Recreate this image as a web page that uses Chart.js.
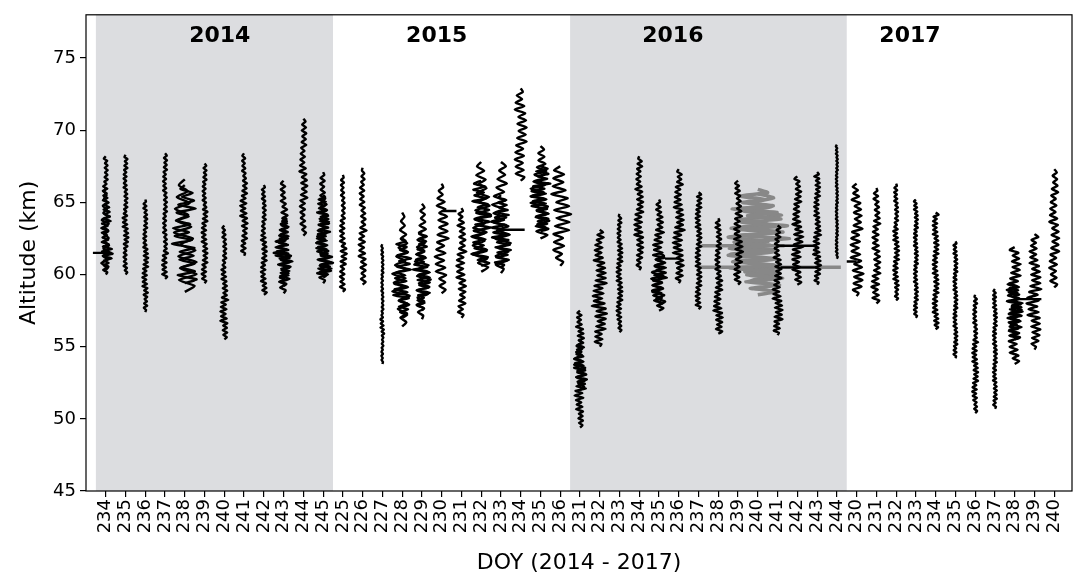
<!DOCTYPE html>
<html>
<head>
<meta charset="utf-8">
<script src="https://cdn.jsdelivr.net/npm/chart.js@4.4.0/dist/chart.umd.min.js"></script>
<style>
  html, body { margin: 0; padding: 0; background: #fff; }
  #wrap { width: 1080px; height: 577px; position: relative; }
</style>
</head>
<body>
<div id="wrap"><canvas id="chart"></canvas></div>
<script>
// DOY per campaign year
const days2014 = [234, 235, 236, 237, 238, 239, 240, 241, 242, 243, 244, 245];
const days2015 = [225, 226, 227, 228, 229, 230, 231, 232, 233, 234, 235, 236];
const days2016 = [231, 232, 233, 234, 235, 236, 237, 238, 239, 240, 241, 242, 243, 244];
const days2017 = [230, 231, 232, 233, 234, 235, 236, 237, 238, 239, 240];
const years = ['2014', '2015', '2016', '2017'];
const altTicks = [45, 50, 55, 60, 65, 70, 75];

// profiles: [slot, bottom km, top km, vertical wavelength km, amplitude envelope bottom -> top]
const blackProfiles = [
  [0, 60.0, 68.2, 0.32, [3, 7, 4, 5, 4, 3, 2, 2]],
  [0, 60.3, 66.0, 0.5, [5, 4, 3, 4, 3, 2]],
  [1, 60.0, 68.3, 0.3, [2, 2, 3, 3, 2, 2, 2, 2]],
  [2, 57.4, 65.2, 0.3, [2, 3, 3, 3, 2, 2, 2]],
  [3, 59.7, 68.4, 0.32, [3, 3, 2, 2, 2, 2, 2, 2, 2]],
  [4, 58.8, 66.6, 0.8, [10, 14, 12, 11, 11, 10, 9, 8]],
  [4, 59.4, 66.2, 0.55, [12, 10, 13, 12, 10, 11, 8]],
  [5, 59.4, 67.7, 0.32, [3, 3, 3, 3, 3, 2, 2, 2]],
  [6, 55.5, 63.4, 0.32, [3, 4, 4, 3, 3, 2, 2, 2]],
  [7, 61.3, 68.4, 0.35, [3, 3, 4, 4, 3, 2, 2]],
  [8, 58.6, 66.2, 0.32, [3, 3, 3, 3, 2, 2, 2]],
  [9, 58.7, 66.5, 0.4, [4, 6, 10, 8, 5, 4, 3, 3]],
  [9, 59.2, 64.0, 0.3, [5, 7, 8, 5, 4]],
  [10, 62.7, 70.8, 0.4, [3, 3, 4, 4, 4, 3, 3, 3]],
  [11, 59.4, 67.1, 0.4, [5, 10, 7, 6, 6, 4, 3, 3]],
  [11, 59.8, 65.5, 0.3, [8, 6, 7, 6, 5]],

  [12, 58.8, 66.9, 0.35, [3, 3, 4, 3, 3, 2, 2, 2]],
  [13, 59.3, 67.4, 0.4, [3, 4, 4, 4, 3, 3, 3, 2]],
  [14, 53.8, 62.1, 0.28, [1, 1, 2, 1, 1, 1, 1, 1]],
  [15, 56.4, 64.3, 0.6, [5, 8, 10, 10, 8, 6, 4, 3]],
  [15, 57.0, 62.5, 0.4, [6, 9, 8, 9, 6]],
  [16, 56.9, 64.9, 0.5, [4, 6, 9, 9, 7, 5, 4, 3]],
  [16, 57.5, 63.0, 0.35, [5, 8, 9, 6, 5]],
  [17, 58.7, 66.3, 0.5, [4, 6, 7, 6, 7, 6, 5, 3]],
  [18, 57.0, 64.6, 0.4, [4, 4, 5, 5, 5, 4, 4, 3]],
  [19, 60.2, 67.8, 0.6, [8, 10, 10, 9, 10, 8, 6, 5]],
  [19, 60.6, 66.5, 0.4, [9, 8, 10, 9, 8]],
  [20, 60.1, 67.8, 0.6, [7, 9, 10, 10, 9, 8, 6, 5]],
  [20, 60.5, 65.5, 0.35, [8, 10, 9, 8, 6]],
  [21, 66.5, 72.9, 0.5, [5, 6, 6, 6, 6, 6, 4]],
  [22, 62.5, 68.9, 0.5, [7, 9, 10, 10, 8, 6, 4]],
  [22, 63.0, 67.5, 0.35, [8, 9, 10, 8]],
  [23, 60.6, 67.5, 0.55, [5, 7, 9, 11, 10, 9, 7]],

  [24, 49.4, 57.5, 0.32, [3, 4, 6, 7, 6, 4, 4, 3]],
  [24, 52.0, 55.5, 0.45, [5, 7, 6, 4]],
  [25, 55.0, 63.1, 0.35, [5, 6, 8, 7, 7, 6, 5, 4]],
  [26, 56.0, 64.2, 0.3, [2, 3, 3, 3, 3, 3, 2, 2]],
  [27, 60.3, 68.2, 0.35, [3, 4, 5, 5, 4, 4, 3, 3]],
  [28, 57.5, 65.2, 0.35, [5, 7, 8, 7, 6, 5, 4, 3]],
  [28, 57.9, 61.5, 0.45, [7, 8, 6]],
  [29, 59.4, 67.3, 0.35, [4, 5, 6, 6, 5, 5, 4, 3]],
  [30, 57.6, 65.7, 0.3, [3, 3, 3, 3, 3, 3, 3, 3]],
  [31, 55.9, 63.9, 0.32, [4, 5, 4, 4, 3, 3, 3, 3]],
  [32, 59.3, 66.5, 0.35, [4, 4, 5, 4, 4, 3, 3]],
  [34, 55.8, 63.4, 0.32, [4, 5, 5, 4, 4, 3, 3]],
  [35, 59.3, 66.8, 0.35, [4, 5, 6, 6, 5, 4, 4, 3]],
  [36, 59.3, 67.1, 0.3, [3, 4, 4, 4, 3, 3, 3, 3]],
  [37, 61.1, 69.0, 0.25, [1, 1, 1, 1, 1, 1, 1, 1]],

  [38, 58.5, 66.3, 0.45, [5, 7, 6, 6, 6, 5, 5, 4]],
  [39, 58.0, 66.0, 0.38, [4, 5, 4, 4, 4, 4, 3, 3]],
  [40, 58.2, 66.3, 0.3, [2, 3, 3, 3, 3, 2, 2, 2]],
  [41, 57.0, 65.2, 0.28, [2, 2, 2, 2, 2, 2, 2, 2]],
  [42, 56.2, 64.3, 0.3, [3, 3, 3, 3, 3, 3, 3, 3]],
  [43, 54.2, 62.3, 0.28, [2, 2, 2, 2, 2, 2, 2]],
  [44, 50.4, 58.6, 0.3, [2, 3, 3, 3, 3, 2, 2, 2]],
  [45, 50.7, 59.0, 0.28, [2, 2, 2, 2, 2, 2, 2, 2]],
  [46, 53.8, 61.9, 0.4, [5, 6, 7, 8, 8, 6, 5]],
  [46, 55.5, 59.5, 0.3, [6, 8, 6]],
  [47, 54.8, 62.8, 0.4, [4, 6, 7, 8, 7, 6, 5, 4]],
  [48, 59.1, 67.3, 0.45, [4, 5, 5, 5, 5, 4, 4, 3]]
];
const grayProfiles = [
  [33, 58.6, 65.9, 0.45, [22, 28, 30, 32, 30, 26, 18]],
  [33, 59.0, 65.6, 0.6, [18, 24, 28, 30, 24, 16]]
];
// single-level excursions: [slot, altitude km, from, to]
const blackSpikes = [
  [0, 61.5, -13, 6], [17, 64.4, 0, 15], [20, 63.1, 0, 24], [29, 61.1, -14, 0],
  [36, 62.0, -40, 0], [36, 60.5, -37, 0], [38, 60.9, -10, 0], [46, 58.3, 0, 27]
];
const graySpikes = [
  [33, 62.0, -57, 27], [33, 60.5, -61, 84]
];

const categories = [...days2014, ...days2015, ...days2016, ...days2017].map(String);
const yearLengths = [days2014.length, days2015.length, days2016.length, days2017.length];
const yearStarts = yearLengths.map((n, i) => yearLengths.slice(0, i).reduce((a, b) => a + b, 0));

const AMP = 0.05;                // slot width per amplitude unit
const SHAPE = [1, 0.55, 0.9, 0.4, 0.75, 1, 0.6, 0.85, 0.35];

function profilePoints(p) {
  const [slot, lo, hi, wl, amps] = p;
  const n = Math.max(2, Math.round((hi - lo) / (wl / 2)));
  const pts = [];
  for (let k = 0; k <= n; k++) {
    const y = lo + (hi - lo) * k / n;
    const seg = Math.min(amps.length - 1, Math.floor(k / n * amps.length));
    const a = (k === 0 || k === n) ? 0 : amps[seg] * SHAPE[(k + slot) % SHAPE.length] * (k % 2 ? 1 : -1);
    pts.push({ x: slot + a * AMP, y: y });
  }
  return pts;
}

function spikePoints(s) {
  return [{ x: s[0] + s[2] * AMP, y: s[1] }, { x: s[0] + s[3] * AMP, y: s[1] }];
}

const datasets = [];
grayProfiles.forEach(p => datasets.push({ data: profilePoints(p), borderColor: '#888888', borderWidth: 3.5, tension: 0.2, order: 3 }));
graySpikes.forEach(s => datasets.push({ data: spikePoints(s), borderColor: '#888888', borderWidth: 3.5, order: 3 }));
blackProfiles.forEach(p => datasets.push({ data: profilePoints(p), borderColor: '#000', borderWidth: 2.4, tension: 0.2, order: 1 }));
blackSpikes.forEach(s => datasets.push({ data: spikePoints(s), borderColor: '#000', borderWidth: 2.4, order: 1 }));

const FONT = 'DejaVu Sans';

// grey year bands, year titles and axes box
const decor = {
  id: 'decor',
  beforeDatasetsDraw(chart) {
    const { ctx, chartArea: a, scales: { x } } = chart;
    ctx.save();
    ctx.fillStyle = '#dcdde0';
    [0, 2].forEach(i => {
      const x0 = x.getPixelForValue(yearStarts[i] - 0.5);
      const x1 = x.getPixelForValue(yearStarts[i] + yearLengths[i] - 0.5);
      ctx.fillRect(x0, a.top, x1 - x0, a.bottom - a.top);
    });
    const labelSlots = [5.77, 16.75, 28.7, 40.7];
    ctx.fillStyle = '#000';
    ctx.font = 'bold 22px "' + FONT + '"';
    ctx.textAlign = 'center';
    ctx.textBaseline = 'middle';
    years.forEach((yr, i) => ctx.fillText(yr, x.getPixelForValue(labelSlots[i]), a.top + 21));
    ctx.restore();
  },
  afterDraw(chart) {
    const { ctx, chartArea: a } = chart;
    ctx.save();
    ctx.strokeStyle = '#000';
    ctx.lineWidth = 1.2;
    ctx.strokeRect(a.left, a.top, a.right - a.left, a.bottom - a.top);
    ctx.restore();
  }
};

new Chart(document.getElementById('chart'), {
  type: 'line',
  data: { datasets: datasets },
  options: {
    responsive: true,
    maintainAspectRatio: false,
    animation: false,
    events: [],
    layout: { padding: { top: 10, right: 8, left: 0, bottom: 0 } },
    elements: { point: { radius: 0 } },
    plugins: { legend: { display: false }, tooltip: { enabled: false } },
    scales: {
      x: {
        type: 'linear',
        min: -1,
        max: 48.9,
        afterBuildTicks: s => { s.ticks = categories.map((_, i) => ({ value: i })); },
        afterFit: s => { s.height = 86; },
        border: { display: false },
        grid: { drawOnChartArea: false, drawTicks: true, tickLength: 6, color: '#000', lineWidth: 1.2 },
        ticks: {
          autoSkip: false, maxRotation: 90, minRotation: 90, padding: 2,
          color: '#000', font: { family: FONT, size: 18 },
          callback: v => categories[v]
        },
        title: {
          display: true, text: 'DOY (2014 - 2017)', color: '#000',
          font: { family: FONT, size: 22 }, padding: { top: 0, bottom: 1 }
        }
      },
      y: {
        min: 45,
        max: 78,
        afterBuildTicks: s => { s.ticks = altTicks.map(v => ({ value: v })); },
        afterFit: s => { s.width = 86; },
        border: { display: false },
        grid: { drawOnChartArea: false, drawTicks: true, tickLength: 6, color: '#000', lineWidth: 1.2 },
        ticks: { color: '#000', padding: 4, font: { family: FONT, size: 18 } },
        title: {
          display: true, text: 'Altitude (km)', color: '#000',
          font: { family: FONT, size: 22 }, padding: { top: 16, bottom: 0 }
        }
      }
    }
  },
  plugins: [decor]
});
</script>
</body>
</html>
